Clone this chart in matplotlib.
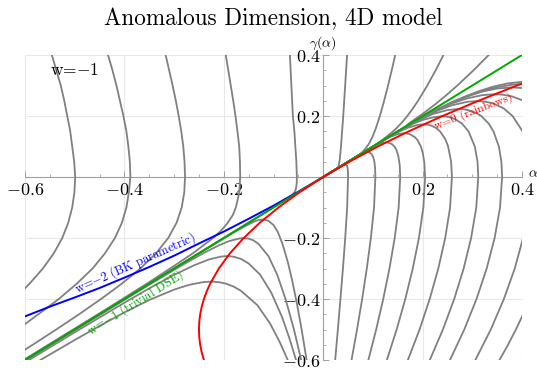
import matplotlib
matplotlib.use("Agg")
import matplotlib.pyplot as plt
import numpy as np

plt.rcParams["mathtext.fontset"] = "cm"
plt.rcParams["axes.formatter.use_mathtext"] = True

# ---------------------------------------------------------------------------
# special solutions, (alpha, gamma)
# ---------------------------------------------------------------------------
rainbow_w0 = [(-0.240, -0.600), (-0.2444, -0.575), (-0.2475, -0.550), (-0.2494, -0.525),
              (-0.250, -0.500), (-0.2494, -0.475), (-0.2475, -0.450), (-0.2444, -0.425),
              (-0.240, -0.400), (-0.2344, -0.375), (-0.2275, -0.350), (-0.210, -0.300),
              (-0.1875, -0.250), (-0.160, -0.200), (-0.1275, -0.150), (-0.090, -0.100),
              (-0.0475, -0.050), (0.0, 0.0), (0.0525, 0.050), (0.110, 0.100),
              (0.1725, 0.150), (0.240, 0.200), (0.3125, 0.250), (0.390, 0.300),
              (0.400, 0.3062)]
trivial_w1 = [(-0.6, -0.6), (0.4, 0.4)]
bk_w2 = [(-0.600, -0.457), (-0.550, -0.425), (-0.500, -0.395), (-0.450, -0.364),
         (-0.400, -0.330), (-0.350, -0.295), (-0.300, -0.258), (-0.250, -0.218),
         (-0.200, -0.179), (-0.150, -0.137), (-0.100, -0.094), (-0.050, -0.048),
         (0.0, 0.0)]

# ---------------------------------------------------------------------------
# w=-1 family (grey), left of the gamma axis
# ---------------------------------------------------------------------------
left_1 = [(-0.546, 0.40), (-0.537, 0.35), (-0.528, 0.30), (-0.521, 0.25), (-0.515, 0.20),
          (-0.509, 0.15), (-0.505, 0.10), (-0.501, 0.05), (-0.499, 0.0), (-0.5006, -0.05),
          (-0.505, -0.10), (-0.513, -0.15), (-0.525, -0.20), (-0.542, -0.25),
          (-0.564, -0.30), (-0.591, -0.35), (-0.600, -0.365)]
left_2 = [(-0.433, 0.40), (-0.424, 0.35), (-0.416, 0.30), (-0.409, 0.25), (-0.402, 0.20),
          (-0.396, 0.15), (-0.392, 0.10), (-0.389, 0.05), (-0.388, 0.0), (-0.391, -0.05),
          (-0.396, -0.10), (-0.405, -0.15), (-0.419, -0.20), (-0.439, -0.25),
          (-0.464, -0.30), (-0.496, -0.35), (-0.532, -0.40), (-0.573, -0.45),
          (-0.600, -0.482)]
left_3 = [(-0.317, 0.40), (-0.310, 0.35), (-0.303, 0.30), (-0.2965, 0.25), (-0.2907, 0.20),
          (-0.2856, 0.15), (-0.2815, 0.10), (-0.279, 0.05), (-0.278, 0.0), (-0.2795, -0.05),
          (-0.2847, -0.10), (-0.295, -0.15), (-0.3118, -0.20), (-0.3362, -0.25),
          (-0.3679, -0.30), (-0.4054, -0.35), (-0.447, -0.40), (-0.4912, -0.45),
          (-0.5372, -0.50), (-0.5844, -0.55), (-0.600, -0.566)]
left_4 = [(-0.196, 0.40), (-0.191, 0.35), (-0.186, 0.30), (-0.181, 0.25), (-0.1765, 0.20),
          (-0.1725, 0.15), (-0.169, 0.10), (-0.1675, 0.05), (-0.167, 0.0), (-0.1688, -0.05),
          (-0.1757, -0.10), (-0.182, -0.125), (-0.192, -0.15), (-0.205, -0.175),
          (-0.2216, -0.20), (-0.262, -0.25), (-0.308, -0.30), (-0.355, -0.35),
          (-0.404, -0.40), (-0.453, -0.45), (-0.503, -0.50), (-0.553, -0.55),
          (-0.600, -0.597)]
left_5 = [(-0.067, 0.40), (-0.064, 0.30), (-0.061, 0.20), (-0.058, 0.15), (-0.056, 0.10),
          (-0.054, 0.05), (-0.053, 0.0), (-0.0533, -0.02), (-0.055, -0.04),
          (-0.0575, -0.05), (-0.063, -0.06), (-0.072, -0.07), (-0.081, -0.08),
          (-0.1005, -0.10), (-0.200, -0.1995), (-0.600, -0.5995)]
below_1 = [(-0.600, -0.600), (-0.300, -0.3004), (-0.250, -0.2508), (-0.200, -0.2015),
           (-0.180, -0.1823), (-0.160, -0.1637), (-0.140, -0.1471), (-0.130, -0.1409),
           (-0.120, -0.1394), (-0.110, -0.1439), (-0.100, -0.1574), (-0.0914, -0.18),
           (-0.0818, -0.22), (-0.071, -0.28), (-0.0623, -0.34), (-0.0523, -0.42),
           (-0.0434, -0.50), (-0.0334, -0.60)]
below_2 = [(-0.600, -0.6022), (-0.500, -0.5025), (-0.400, -0.403), (-0.330, -0.3335),
           (-0.280, -0.2855), (-0.240, -0.2488), (-0.210, -0.2242), (-0.190, -0.2106),
           (-0.170, -0.202), (-0.160, -0.200), (-0.150, -0.202), (-0.140, -0.2081),
           (-0.130, -0.2196), (-0.110, -0.26), (-0.0926, -0.32), (-0.0758, -0.40),
           (-0.0588, -0.50), (-0.0443, -0.60)]
below_3 = [(-0.592, -0.600), (-0.500, -0.5092), (-0.450, -0.4607), (-0.400, -0.4122),
           (-0.350, -0.3652), (-0.300, -0.3209), (-0.260, -0.2897), (-0.230, -0.2705),
           (-0.205, -0.2607), (-0.192, -0.259), (-0.180, -0.2614), (-0.165, -0.2688),
           (-0.150, -0.2835), (-0.127, -0.32), (-0.1042, -0.38), (-0.0826, -0.46),
           (-0.0677, -0.53), (-0.0547, -0.60)]
below_4 = [(-0.569, -0.600), (-0.550, -0.5819), (-0.500, -0.5345), (-0.450, -0.4883),
           (-0.400, -0.444), (-0.350, -0.4032), (-0.300, -0.3692), (-0.270, -0.3536),
           (-0.240, -0.3443), (-0.2254, -0.343), (-0.210, -0.3447), (-0.195, -0.350),
           (-0.180, -0.3595), (-0.165, -0.3737), (-0.1326, -0.42), (-0.107, -0.48),
           (-0.0878, -0.54), (-0.0714, -0.60)]

# ---------------------------------------------------------------------------
# w=-1 family (grey), right of the gamma axis
# ---------------------------------------------------------------------------
up_1 = [(0.0, 0.0), (0.027, 0.027), (0.0305, 0.033), (0.0315, 0.04), (0.0335, 0.06),
        (0.0358, 0.10), (0.0403, 0.20), (0.0442, 0.30), (0.048, 0.40)]
up_2 = [(0.0, 0.0), (0.075, 0.075), (0.0806, 0.085), (0.0861, 0.095), (0.0924, 0.11),
        (0.0987, 0.13), (0.106, 0.16), (0.114, 0.20), (0.1226, 0.25), (0.1305, 0.30),
        (0.1379, 0.35), (0.145, 0.40)]
up_3 = [(0.0, 0.0), (0.11, 0.11), (0.1257, 0.13), (0.1373, 0.145), (0.1474, 0.16),
        (0.1591, 0.18), (0.1692, 0.20), (0.1784, 0.22), (0.1909, 0.25), (0.2095, 0.30),
        (0.2263, 0.35), (0.242, 0.40)]
up_4 = [(0.0, 0.0), (0.165, 0.165), (0.1762, 0.18), (0.2027, 0.21), (0.2267, 0.24),
        (0.2489, 0.27), (0.2699, 0.30), (0.3025, 0.35), (0.333, 0.40)]
right_1 = [(0.0, 0.0), (0.030, 0.030), (0.038, 0.0375), (0.0435, 0.0416), (0.0482, 0.037),
           (0.0491, 0.03), (0.0497, 0.02), (0.050, 0.0), (0.0482, -0.10), (0.0443, -0.20),
           (0.0397, -0.30), (0.0347, -0.40), (0.0295, -0.50), (0.0241, -0.60)]
right_2 = [(0.0, 0.0), (0.050, 0.050), (0.070, 0.0697), (0.080, 0.0785), (0.089, 0.0825),
           (0.093, 0.0809), (0.0974, 0.075), (0.1007, 0.065), (0.103, 0.05),
           (0.1044, 0.03), (0.105, 0.0), (0.1023, -0.10), (0.0959, -0.20),
           (0.0877, -0.30), (0.0784, -0.40), (0.0681, -0.50), (0.057, -0.60)]
right_3 = [(0.0, 0.0), (0.090, 0.0895), (0.110, 0.1075), (0.120, 0.1118), (0.127, 0.1138),
           (0.130, 0.1134), (0.138, 0.108), (0.1434, 0.10), (0.147, 0.09), (0.151, 0.07),
           (0.1539, 0.04), (0.155, 0.0), (0.1518, -0.10), (0.1439, -0.20),
           (0.1333, -0.30), (0.1208, -0.40), (0.1066, -0.50), (0.0909, -0.60)]
right_4 = [(0.0, 0.0), (0.080, 0.0799), (0.110, 0.1098), (0.130, 0.1285), (0.150, 0.1407),
           (0.165, 0.144), (0.175, 0.140), (0.1849, 0.13), (0.1901, 0.12), (0.1965, 0.10),
           (0.2002, 0.08), (0.2033, 0.05), (0.205, 0.0), (0.2015, -0.10), (0.1926, -0.20),
           (0.1802, -0.30), (0.1652, -0.40), (0.1478, -0.50), (0.1281, -0.60)]
right_5 = [(0.0, 0.0), (0.100, 0.0996), (0.130, 0.1294), (0.150, 0.1468), (0.170, 0.1614),
           (0.190, 0.1707), (0.203, 0.1728), (0.210, 0.1718), (0.2182, 0.168),
           (0.2278, 0.16), (0.2348, 0.15), (0.2455, 0.125), (0.2514, 0.10),
           (0.2574, 0.05), (0.259, 0.0), (0.2553, -0.10), (0.2455, -0.20),
           (0.2316, -0.30), (0.2143, -0.40), (0.1939, -0.50), (0.1704, -0.60)]
right_6 = [(0.0, 0.0), (0.140, 0.1388), (0.160, 0.1573), (0.180, 0.1739), (0.200, 0.187),
           (0.220, 0.1954), (0.240, 0.1995), (0.255, 0.196), (0.265, 0.19),
           (0.2794, 0.175), (0.2921, 0.15), (0.3051, 0.10), (0.3105, 0.05), (0.312, 0.0),
           (0.308, -0.10), (0.2976, -0.20), (0.2826, -0.30), (0.2636, -0.40),
           (0.2409, -0.50), (0.2145, -0.60)]
right_7 = [(0.0, 0.0), (0.150, 0.1499), (0.190, 0.1839), (0.220, 0.2063), (0.250, 0.2195),
           (0.276, 0.2235), (0.290, 0.220), (0.308, 0.21), (0.318, 0.20),
           (0.3331, 0.175), (0.3425, 0.15), (0.3535, 0.10), (0.3585, 0.05), (0.360, 0.0),
           (0.3558, -0.10), (0.3449, -0.20), (0.3289, -0.30), (0.3085, -0.40),
           (0.2839, -0.50), (0.2551, -0.60)]
right_8 = [(0.0, 0.0), (0.140, 0.139), (0.170, 0.1664), (0.200, 0.1934), (0.230, 0.2174),
           (0.260, 0.2357), (0.290, 0.2465), (0.311, 0.249), (0.320, 0.2481),
           (0.330, 0.2459), (0.3435, 0.24), (0.363, 0.225), (0.381, 0.20), (0.401, 0.15),
           (0.411, 0.10), (0.416, 0.05), (0.418, 0.0), (0.4135, -0.10), (0.4022, -0.20),
           (0.3854, -0.30), (0.3636, -0.40), (0.3372, -0.50), (0.3062, -0.60)]
right_9 = [(0.0, 0.0), (0.140, 0.1394), (0.170, 0.1675), (0.200, 0.1952), (0.230, 0.221),
           (0.260, 0.242), (0.290, 0.2579), (0.320, 0.2684), (0.345, 0.2714),
           (0.360, 0.2701), (0.380, 0.2641), (0.400, 0.2521), (0.420, 0.23)]
right_9b = [(0.409, -0.425), (0.400, -0.458), (0.3877, -0.50), (0.3719, -0.55),
            (0.3547, -0.60)]
right_10 = [(0.0, 0.0), (0.170, 0.168), (0.200, 0.1965), (0.230, 0.2214), (0.260, 0.2442),
            (0.290, 0.264), (0.320, 0.2799), (0.350, 0.2901), (0.380, 0.2937),
            (0.400, 0.2917)]
right_11 = [(0.0, 0.0), (0.200, 0.1975), (0.230, 0.2225), (0.260, 0.246), (0.290, 0.2665),
            (0.320, 0.2825), (0.350, 0.2945), (0.380, 0.3025), (0.400, 0.3055)]
right_12 = [(0.0, 0.0), (0.190, 0.1881), (0.220, 0.2141), (0.250, 0.2381), (0.280, 0.2597),
            (0.310, 0.2795), (0.340, 0.2954), (0.370, 0.3066), (0.400, 0.312)]

grey_curves = [left_1, left_2, left_3, left_4, left_5,
               below_1, below_2, below_3, below_4,
               up_1, up_2, up_3, up_4,
               right_1, right_2, right_3, right_4, right_5, right_6, right_7,
               right_8, right_9, right_9b, right_10, right_11, right_12]

x_ticks = [-0.6, -0.4, -0.2, 0.2, 0.4]
y_ticks = [-0.6, -0.4, -0.2, 0.2, 0.4]

GREY = "#808080"
RED = "#ff0000"
GREEN = "#00a800"
BLUE = "#0000ff"

fig = plt.figure(figsize=(5.37, 3.68), dpi=100)
ax = fig.add_axes([25 / 537, 8 / 368, 497 / 537, 305 / 368])
ax.set_xlim(-0.6, 0.4)
ax.set_ylim(-0.6, 0.4)

# grid on the major ticks
for v in x_ticks:
    ax.axvline(v, color="#e8e8e8", lw=0.8, zorder=0)
for v in y_ticks:
    ax.axhline(v, color="#e8e8e8", lw=0.8, zorder=0)

for c in grey_curves:
    a, g = np.array(c).T
    ax.plot(a, g, color=GREY, lw=1.3, solid_joinstyle="round", zorder=2)

for c, col in [(bk_w2, BLUE), (trivial_w1, GREEN), (rainbow_w0, RED)]:
    a, g = np.array(c).T
    ax.plot(a, g, color=col, lw=1.4, solid_joinstyle="round", zorder=3)

# axes through the origin, Mathematica style
for s in ["top", "right"]:
    ax.spines[s].set_visible(False)
ax.spines["left"].set_position(("data", 0))
ax.spines["bottom"].set_position(("data", 0))
for s in ["left", "bottom"]:
    ax.spines[s].set_color("#a0a0a0")
    ax.spines[s].set_linewidth(0.8)
    ax.spines[s].set_zorder(1)

ax.set_xticks(x_ticks)
ax.set_yticks(y_ticks)
ax.set_xticks(np.arange(-0.6, 0.401, 0.05), minor=True)
ax.set_yticks(np.arange(-0.6, 0.401, 0.05), minor=True)
ax.set_xticklabels([f"${v:g}$" for v in x_ticks])
ax.set_yticklabels([f"${v:g}$" for v in y_ticks])
ax.tick_params(which="both", direction="in", color="#a0a0a0", labelsize=13)
ax.tick_params(which="major", length=4, width=0.7)
ax.tick_params(which="minor", length=2.2, width=0.6)
ax.tick_params(axis="x", pad=3)
ax.tick_params(axis="y", pad=2)

ax.text(0.0, 0.439, r"$\gamma(\alpha)$", fontsize=10, ha="center", va="center",
        clip_on=False)
ax.text(0.412, 0.012, r"$\alpha$", fontsize=10, ha="left", va="center",
        clip_on=False)

ax.text(-0.5, 0.35, "w=$-$1", family="cmr10", fontsize=12.5, ha="center",
        va="center")
ax.text(-0.378, -0.282, "w=$-$2 (BK parametric)", family="cmr10", fontsize=9,
        color=BLUE, rotation=24, rotation_mode="anchor", ha="center",
        va="center")
ax.text(-0.378, -0.413, "w=$-$1 (trivial DSE)", family="cmr10", fontsize=9,
        color=GREEN, rotation=32, rotation_mode="anchor", ha="center",
        va="center")
ax.text(0.302, 0.213, "w=0 (rainbows)", family="cmr10", fontsize=8.5,
        color=RED, rotation=21, rotation_mode="anchor", ha="center",
        va="center")

fig.text(273 / 537, 1 - 19 / 368, "Anomalous Dimension, 4D model",
         family="cmr10", fontsize=16.7, ha="center", va="center")

fig.savefig("out.png", dpi=100)
